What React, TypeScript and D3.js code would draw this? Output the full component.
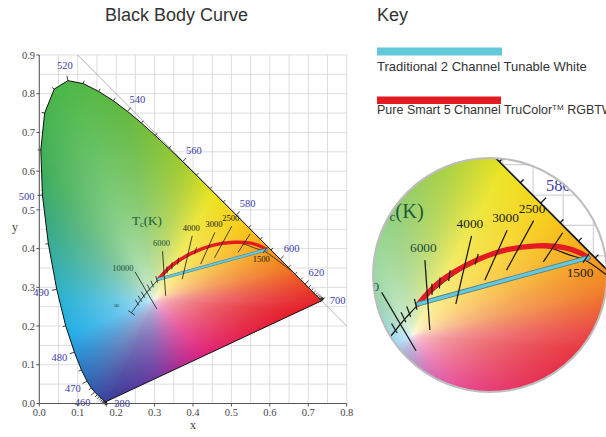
import { useMemo } from 'react'
import * as d3 from 'd3'

// CIE 1931 spectral locus, 5 nm steps
const wavelengths = d3.range(380, 701, 5)
const locusX = [0.1741, 0.174, 0.1738, 0.1736, 0.1733, 0.173, 0.1726, 0.1721, 0.1714, 0.1703, 0.1689, 0.1669, 0.1644, 0.1611, 0.1566, 0.151, 0.144, 0.1355, 0.1241, 0.1096, 0.0913, 0.0687, 0.0454, 0.0235, 0.0082, 0.0039, 0.0139, 0.0389, 0.0743, 0.1142, 0.1547, 0.1929, 0.2296, 0.2658, 0.3016, 0.3373, 0.3731, 0.4087, 0.4441, 0.4788, 0.5125, 0.5448, 0.5752, 0.6029, 0.627, 0.6482, 0.6658, 0.6801, 0.6915, 0.7006, 0.7079, 0.714, 0.719, 0.723, 0.726, 0.7283, 0.73, 0.7311, 0.732, 0.7327, 0.7334, 0.734, 0.7344, 0.7346, 0.7347]
const locusY = [0.005, 0.005, 0.0049, 0.0049, 0.0048, 0.0048, 0.0048, 0.0048, 0.0051, 0.0058, 0.0069, 0.0086, 0.0109, 0.0138, 0.0177, 0.0227, 0.0297, 0.0399, 0.0578, 0.0868, 0.1327, 0.2007, 0.295, 0.4127, 0.5384, 0.6548, 0.7502, 0.812, 0.8338, 0.8262, 0.8059, 0.7816, 0.7543, 0.7243, 0.6923, 0.6589, 0.6245, 0.5896, 0.5547, 0.5202, 0.4866, 0.4544, 0.4242, 0.3965, 0.3725, 0.3514, 0.334, 0.3197, 0.3083, 0.2993, 0.292, 0.2859, 0.2809, 0.277, 0.274, 0.2717, 0.27, 0.2689, 0.268, 0.2673, 0.2666, 0.266, 0.2656, 0.2654, 0.2653]
const labeledNm = [380, 460, 470, 480, 490, 500, 520, 540, 560, 580, 600, 620, 700]

// Planckian locus
const planckT = [1000, 1500, 1700, 2000, 2500, 3000, 3500, 4000, 4500, 5000, 5500, 6000, 6500, 7000, 8000, 9000, 10000, 12000, 15000, 20000]
const planckX = [0.6528, 0.5857, 0.5601, 0.5267, 0.477, 0.4369, 0.4053, 0.3805, 0.3608, 0.3451, 0.3325, 0.3221, 0.3135, 0.3064, 0.2952, 0.2869, 0.2807, 0.272, 0.2637, 0.2565]
const planckY = [0.3444, 0.3931, 0.4015, 0.4133, 0.4137, 0.4041, 0.3907, 0.3768, 0.3636, 0.3516, 0.3411, 0.3318, 0.3237, 0.3166, 0.3048, 0.2956, 0.2883, 0.2776, 0.2671, 0.2573]
const infinityXY = [0.2399, 0.2341]

// isotherm lines
const isoT = [10000, 6000, 4000, 3000, 2500, 2000]
const isoLabels = ['10000', '6000', '4000', '3000', '2500', '']
const isoTopX = [0.249, 0.3207, 0.398, 0.457, 0.501, 0.549]
const isoTopY = [0.34, 0.393, 0.433, 0.442, 0.458, 0.438]
const isoBotX = [0.306, 0.3289, 0.372, 0.42, 0.456, 0.517]
const isoBotY = [0.244, 0.278, 0.321, 0.36, 0.3765, 0.39]
const minorT = [20000, 15000, 12000, 9000, 8000, 7000, 5500, 5000, 4500, 3500, 1500]

// the two tuning paths
const redX = [0.31, 0.3457, 0.3954, 0.4506, 0.506, 0.55, 0.578, 0.591]
const redY = [0.321, 0.3575, 0.3877, 0.4086, 0.4163, 0.414, 0.405, 0.397]
const cyanX = [0.31, 0.591]
const cyanY = [0.321, 0.397]

// colour field around the white point
const hueAngles = [0, 12.7, 24.7, 42, 61, 78, 99, 113, 130, 141, 160, 181, 203, 218, 233, 246, 269, 290, 311, 335, 355, 360]
const hueColors = ['#e6282a', '#f07a22', '#f6a81c', '#f8d01a', '#ece424', '#a4cc30', '#62b942', '#4cb748', '#40ae5a', '#3aaa78', '#34aea8', '#2cb2d6', '#24aee8', '#2a88cf', '#3462b0', '#3c3c9a', '#6c3ca2', '#b02e92', '#e0247e', '#e42452', '#e41e28', '#e6282a']
const whitePt = [0.3, 0.27]

const xTicks = d3.range(0, 0.81, 0.1)
const yTicks = d3.range(0, 0.91, 0.1)

const x = d3.scaleLinear().domain([0, 0.8]).range([39.3, 346.7])
const y = d3.scaleLinear().domain([0, 0.9]).range([403.5, 55])

const serif = "'Liberation Serif', 'DejaVu Serif', serif"
const sans = "'Liberation Sans', Arial, sans-serif"

function buildFill() {
  const pts = wavelengths.map((_, i) => [locusX[i], locusY[i]])
  const nBins = 1440
  const R = new Float32Array(nBins)
  const hue = d3.scaleLinear<string>().domain(hueAngles).range(hueColors).interpolate(d3.interpolateRgb)
  const lut: number[][] = []
  for (let b = 0; b < nBins; b++) {
    const a = (b / nBins) * 2 * Math.PI
    const dx = Math.cos(a), dy = Math.sin(a)
    let best = 1
    for (let i = 0; i < pts.length; i++) {
      const p = pts[i], q = pts[(i + 1) % pts.length]
      const ex = q[0] - p[0], ey = q[1] - p[1]
      const den = dx * ey - dy * ex
      if (Math.abs(den) < 1e-12) continue
      const wx = p[0] - whitePt[0], wy = p[1] - whitePt[1]
      const t = (wx * ey - wy * ex) / den
      const s = (wx * dy - wy * dx) / den
      if (t > 0 && s >= -1e-6 && s <= 1 + 1e-6 && t < best) best = t
    }
    R[b] = best
    const c = d3.rgb(hue((b / nBins) * 360))
    lut.push([c.r, c.g, c.b])
  }
  const res = 800
  const w = 0.8 * res, h = 0.9 * res
  const canvas = document.createElement('canvas')
  canvas.width = w
  canvas.height = h
  const ctx = canvas.getContext('2d')!
  const img = ctx.createImageData(w, h)
  for (let py = 0; py < h; py++) {
    const yy = 0.9 - (py + 0.5) / res
    for (let px = 0; px < w; px++) {
      const xx = (px + 0.5) / res
      const dx = xx - whitePt[0], dy = yy - whitePt[1]
      let ang = Math.atan2(dy, dx)
      if (ang < 0) ang += 2 * Math.PI
      const b = Math.min(nBins - 1, Math.floor((ang / (2 * Math.PI)) * nBins))
      const s = Math.min(1, Math.hypot(dx, dy) / R[b])
      const sat = Math.pow(s, 0.42)
      const c = lut[b]
      const k = (py * w + px) * 4
      img.data[k] = 255 - (255 - c[0]) * sat
      img.data[k + 1] = 255 - (255 - c[1]) * sat
      img.data[k + 2] = 255 - (255 - c[2]) * sat
      img.data[k + 3] = 255
    }
  }
  ctx.putImageData(img, 0, 0)
  return canvas.toDataURL()
}

function Diagram({ fill, clipId }: { fill: string; clipId: string }) {
  const n = wavelengths.length
  const P = wavelengths.map((_, i) => [x(locusX[i]), y(locusY[i])])
  const locusPath = 'M' + P.map((p) => p.join(',')).join('L') + 'Z'
  const normalAt = (i: number) => {
    const a = P[Math.max(0, i - 1)], b = P[Math.min(n - 1, i + 1)]
    const tx = b[0] - a[0], ty = b[1] - a[1]
    const len = Math.hypot(tx, ty) || 1
    return [ty / len, -tx / len]
  }
  const grid = d3.range(0, 0.801, 0.05)
  const gridY = d3.range(0, 0.901, 0.05)

  const planckPts: [number, number][] = planckT.map((_, i) => [x(planckX[i]), y(planckY[i])])
  planckPts.push([x(infinityXY[0]), y(infinityXY[1])])
  const line = d3.line().curve(d3.curveCatmullRom)
  const redPath = line(redX.map((v, i) => [x(v), y(redY[i])]))!
  const cyanPath = d3.line()(cyanX.map((v, i) => [x(v), y(cyanY[i])]))!

  // direction of isotherms, interpolated in mired for minor ticks
  const isoAng = isoT.map((_, i) => Math.atan2(y(isoTopY[i]) - y(isoBotY[i]), x(isoTopX[i]) - x(isoBotX[i])))
  const angScale = d3.scaleLinear().domain(isoT.map((t) => 1e6 / t)).range(isoAng).clamp(true)

  const last = planckPts[planckPts.length - 1]
  const prev = planckPts[planckPts.length - 2]
  const ed = Math.atan2(last[1] - prev[1], last[0] - prev[0]) + Math.PI / 2

  return (
    <g>
      <g stroke="#d4d4d4" strokeWidth={0.8}>
        {grid.map((g) => (
          <line key={'gx' + g} x1={x(g)} x2={x(g)} y1={y(0)} y2={y(0.9)} />
        ))}
        {gridY.map((g) => (
          <line key={'gy' + g} x1={x(0)} x2={x(0.8)} y1={y(g)} y2={y(g)} />
        ))}
      </g>
      <line x1={x(0.1)} y1={y(0.9)} x2={x(0.8)} y2={y(0.2)} stroke="#b4b4b4" strokeWidth={1} />
      <clipPath id={clipId}>
        <path d={locusPath} />
      </clipPath>
      <image href={fill} x={x(0)} y={y(0.9)} width={x(0.8) - x(0)} height={y(0) - y(0.9)} preserveAspectRatio="none" clipPath={`url(#${clipId})`} />
      <path d={locusPath} fill="none" stroke="#111" strokeWidth={1} />
      <g stroke="#111" strokeWidth={0.8}>
        {wavelengths.map((nm, i) => {
          const [nx, ny] = normalAt(i)
          const L = labeledNm.includes(nm) ? 5 : 3
          return <line key={nm} x1={P[i][0]} y1={P[i][1]} x2={P[i][0] + nx * L} y2={P[i][1] + ny * L} />
        })}
      </g>
      <g fill="#3b3bab" fontFamily={serif} fontSize={10.5} textAnchor="middle">
        {labeledNm.map((nm) => {
          const i = wavelengths.indexOf(nm)
          let [nx, ny] = normalAt(i)
          if (nm === 380) [nx, ny] = [0.99, 0.12]
          if (nm === 700) [nx, ny] = [1, 0]
          return (
            <text key={nm} x={P[i][0] + nx * 16} y={P[i][1] + ny * 16} dy="0.35em">
              {nm}
            </text>
          )
        })}
      </g>
      <path d={line(planckPts)!} fill="none" stroke="#1a1a1a" strokeWidth={0.8} />
      <line x1={last[0] - Math.cos(ed) * 4} y1={last[1] - Math.sin(ed) * 4} x2={last[0] + Math.cos(ed) * 4} y2={last[1] + Math.sin(ed) * 4} stroke="#1a1a1a" strokeWidth={0.8} />
      <text x={last[0] - 15} y={last[1] - 5} fontFamily={serif} fontSize={8} fill="#1d4a3a" textAnchor="middle">
        ∞
      </text>
      <path d={redPath} fill="none" stroke="#e41b23" strokeWidth={3.4} strokeLinecap="round" />
      <path d={cyanPath} fill="none" stroke="#5d7f86" strokeWidth={3.2} strokeLinecap="round" />
      <path d={cyanPath} fill="none" stroke="#62cadc" strokeWidth={2} strokeLinecap="round" />
      <g stroke="#1a1a1a" strokeWidth={0.8}>
        {isoT.map((t, i) => (
          <line key={t} x1={x(isoTopX[i])} y1={y(isoTopY[i])} x2={x(isoBotX[i])} y2={y(isoBotY[i])} />
        ))}
        {minorT.map((t) => {
          const i = planckT.indexOf(t)
          const a = angScale(1e6 / t)
          const cx = x(planckX[i]), cy = y(planckY[i])
          return <line key={t} x1={cx - Math.cos(a) * 2} y1={cy - Math.sin(a) * 2} x2={cx + Math.cos(a) * 5} y2={cy + Math.sin(a) * 5} />
        })}
      </g>
      <g fontFamily={serif} fontSize={8.5}>
        {isoT.map((t, i) =>
          isoLabels[i] ? (
            <text
              key={t}
              x={x(isoTopX[i]) + (t >= 10000 ? -1.5 : -1)}
              y={y(isoTopY[i]) + (t >= 10000 ? -1 : -5)}
              textAnchor={t >= 10000 ? 'end' : 'middle'}
              fill={t >= 6000 ? '#1d4a3a' : '#1a1a1a'}
            >
              {isoLabels[i]}
            </text>
          ) : null
        )}
        <text x={x(planckX[1]) - 3} y={y(planckY[1]) + 11} textAnchor="middle" fill="#1a1a1a">
          1500
        </text>
      </g>
      <text x={x(0.28)} y={y(0.462)} fontFamily={serif} fontSize={13} fill="#1d5a3a" textAnchor="middle">
        T<tspan fontSize={8.5} dy={2}>c</tspan>
        <tspan dy={-2}>(K)</tspan>
      </text>
    </g>
  )
}

export default function App() {
  const fill = useMemo(() => buildFill(), [])
  const fmt = d3.format('.1f')
  const cx = 490, cy = 275, r = 117
  const mag = 1.57
  return (
    <svg width={606} height={437} style={{ position: 'absolute', left: 0, top: 0, background: '#fff' }}>
      <text x={105} y={21} fontFamily={sans} fontSize={18} fill="#333">
        Black Body Curve
      </text>
      <Diagram fill={fill} clipId="locus-main" />
      {/* axes */}
      <g stroke="#555" strokeWidth={1}>
        <line x1={x(0)} x2={x(0)} y1={y(0)} y2={y(0.9)} />
        <line x1={x(0)} x2={x(0.8)} y1={y(0)} y2={y(0)} />
        {xTicks.map((t) => (
          <line key={'xt' + t} x1={x(t)} x2={x(t)} y1={y(0)} y2={y(0) + 3} />
        ))}
        {yTicks.map((t) => (
          <line key={'yt' + t} x1={x(0) - 3} x2={x(0)} y1={y(t)} y2={y(t)} />
        ))}
      </g>
      <g fontFamily={serif} fontSize={10.5} fill="#444">
        {xTicks.map((t) => (
          <text key={'xl' + t} x={x(t)} y={416} textAnchor="middle">
            {fmt(t)}
          </text>
        ))}
        {yTicks.map((t) => (
          <text key={'yl' + t} x={35} y={y(t)} dy="0.35em" textAnchor="end">
            {fmt(t)}
          </text>
        ))}
      </g>
      <text x={193} y={429} fontFamily={serif} fontSize={12} fill="#444" textAnchor="middle">
        x
      </text>
      <text x={15} y={231} fontFamily={serif} fontSize={12} fill="#444" textAnchor="middle">
        y
      </text>

      {/* key */}
      <text x={377} y={21} fontFamily={sans} fontSize={18} fill="#333">
        Key
      </text>
      <rect x={377} y={47.5} width={125} height={8} fill="#62c8da" />
      <text x={377} y={71} fontFamily={sans} fontSize={13} fill="#333">
        Traditional 2 Channel Tunable White
      </text>
      <rect x={377} y={96.5} width={124} height={7.5} fill="#e41b23" />
      <text x={377} y={114} fontFamily={sans} fontSize={12.5} fill="#333">
        Pure Smart 5 Channel TruColor<tspan fontSize={8} dy={-4.5}>TM</tspan>
        <tspan dy={4.5}> RGBTW</tspan>
      </text>

      {/* magnified inset */}
      <clipPath id="inset-clip">
        <circle cx={cx} cy={cy} r={r} />
      </clipPath>
      <circle cx={cx} cy={cy} r={r} fill="#fff" />
      <g clipPath="url(#inset-clip)">
        <g transform={`translate(${cx - mag * 204},${cy - mag * 260.8}) scale(${mag})`}>
          <Diagram fill={fill} clipId="locus-inset" />
        </g>
      </g>
      <circle cx={cx} cy={cy} r={r} fill="none" stroke="#bdbdbd" strokeWidth={2} />
    </svg>
  )
}
